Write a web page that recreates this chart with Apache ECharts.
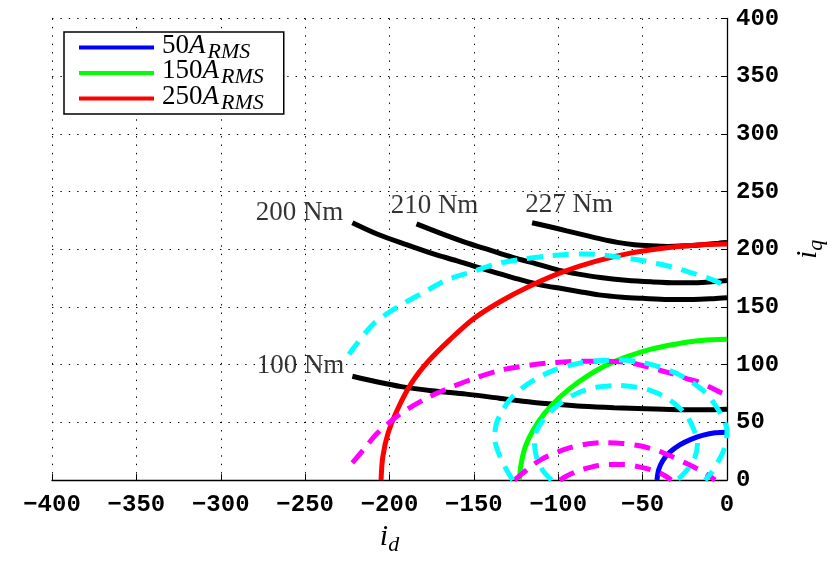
<!DOCTYPE html>
<html>
<head>
<meta charset="utf-8">
<script src="https://cdn.jsdelivr.net/npm/echarts@6/dist/echarts.min.js"></script>
<style>
  html, body { margin: 0; padding: 0; background: #fff; }
  #chart { width: 835px; height: 561px; }
</style>
</head>
<body>
<div id="chart"></div>
<script>
// Axis ranges and tick spacing (A)
const idRange = [-400, 0];
const iqRange = [0, 400];
const tickStep = 50;

// Current-limit circles, [i_d, i_q]
const currentLevels = ['50', '150', '250'];
const circle50 = [[-41.5,0],[-40.5,9],[-38,17],[-34,24],[-28,30.5],[-21,35.5],[-14,39],[-7,41],[0,41.5]];
const circle150 = [[-123,0],[-122,14],[-119.5,29],[-115,43],[-108,58],[-99,72],[-88,85],[-75,97],[-60,106.5],[-45,113.5],[-30,118],[-15,121],[0,122]];
const circle250 = [[-205,0],[-204,20],[-201,40],[-195,62],[-187,84],[-177,103],[-164,122],[-150,140],[-134,155],[-117,168],[-98,180],[-78,189.5],[-58,196.5],[-38,201],[-19,203.5],[0,204.5]];

// Constant-torque curves
const torqueNames = ['100 Nm', '200 Nm', '210 Nm', '227 Nm'];
const torque100 = [[-222,90],[-207,85],[-193,81],[-175,77.5],[-154.5,74.5],[-135,71],[-115.5,67.5],[-100,65.5],[-86,64],[-67,62.7],[-48,61.8],[-28,61],[-14,61],[0,61.5]];
const torque200 = [[-222,223],[-207,213],[-190,204],[-174,196],[-160,190],[-148,184.5],[-135,179],[-122,173.5],[-110,169],[-98,166],[-88,163.5],[-76,160.5],[-62,158.5],[-50,157.5],[-35,156.5],[-20,156.5],[-8,157.2],[0,158]];
const torque210 = [[-184,222],[-170,214],[-155,206],[-140,199],[-127,193],[-112,187],[-100,182],[-88,178.5],[-75,175.5],[-60,173.2],[-45,171.8],[-30,171],[-15,171.3],[0,173]];
const torque227 = [[-115.5,223],[-105,219.5],[-95,216],[-85,212.5],[-75,209],[-65,206],[-55,204],[-45,203],[-35,202.5],[-25,203],[-15,204],[-5,205.3],[0,206]];

// Voltage-limit ellipses (dashed)
const cyanOuter = [[-224,109],[-221,115],[-209,136],[-193,152],[-178,164],[-167,173],[-150,181],[-135,188],[-121,191.5],[-108,194],[-95,195.5],[-84.5,196],[-73,195],[-63,193],[-53,191],[-42.6,188],[-32,184.5],[-22,180],[-12,175.5],[-6,172],[0,168]];
const cyanMiddle = [[-127,0],[-131,10],[-135,22],[-137.5,35],[-137,47],[-134,58],[-129,69],[-122,79],[-113,88],[-102,95.5],[-90,100.5],[-77,103.5],[-64,104],[-52,102.5],[-40,98],[-30,92.5],[-21,85],[-13,76],[-7,65],[-2.5,54],[0,43],[-0.5,33],[-2.5,24],[-6,14],[-10,5],[-13,0]];
const cyanInner = [[-104,0],[-109,8],[-112.5,18],[-114,30],[-113,42],[-108,54],[-101,64],[-92,73],[-83,78.5],[-75,81],[-65,82],[-56,81],[-46,78],[-38,73],[-30,65],[-24,56],[-20,45],[-17.5,32],[-19,20],[-23,10],[-28,2],[-30,0]];
const magentaOuter = [[-222,15],[-215,27],[-207,41],[-193,58],[-178,71],[-166,79],[-150,88],[-135,95],[-124,98],[-105,101.6],[-86,103],[-75,103],[-63,102.5],[-52,100],[-42,96],[-32,92],[-24,88],[-18,85.5],[-10,80.5],[-3,75.5],[0,74]];
const magentaMiddle = [[-126,0],[-121,6],[-116,12],[-110,18],[-101,24],[-92,28.5],[-82,31.5],[-73,32.5],[-62,31.8],[-51,29.5],[-41,25.5],[-32,20],[-22,13],[-13,6],[-7,0]];
const magentaInner = [[-99,0],[-95,3.5],[-89,7.5],[-80,11.5],[-70,13.5],[-61,13.5],[-52,11.5],[-43,8],[-37,4],[-33,0]];

const serif = 'Liberation Serif';
const mono = 'Liberation Mono';

function solid(name, data, color) {
  return {
    name, type: 'line', data, showSymbol: false, smooth: 0.3,
    lineStyle: { color, width: 5 }, itemStyle: { color }, silent: true
  };
}
function dashed(data, color) {
  return {
    type: 'line', data, showSymbol: false, smooth: 0.3,
    lineStyle: { color, width: 5, type: [16, 10] }, itemStyle: { color }, silent: true
  };
}

const torqueCurves = [torque100, torque200, torque210, torque227];
// label placement relative to the first point of each torque curve
const labelPlacement = [
  { position: 'left', distance: 8, offset: [0, -10] },
  { position: 'left', distance: 9, offset: [0, -10] },
  { position: 'top', distance: 5, offset: [18, 0] },
  { position: 'top', distance: 4, offset: [37, 0] }
];

const labelPoints = torqueCurves.map((c, i) => ({
  value: c[0],
  name: torqueNames[i],
  label: labelPlacement[i]
}));

const series = [
  ...torqueCurves.map(d => solid(undefined, d, '#000')),
  solid(currentLevels[0], circle50, '#0000ff'),
  solid(currentLevels[1], circle150, '#00ff00'),
  solid(currentLevels[2], circle250, '#ff0000'),
  dashed(magentaOuter, '#ff00ff'),
  dashed(magentaMiddle, '#ff00ff'),
  dashed(magentaInner, '#ff00ff'),
  dashed(cyanOuter, '#00ffff'),
  dashed(cyanMiddle, '#00ffff'),
  dashed(cyanInner, '#00ffff'),
  {
    type: 'scatter', data: labelPoints, symbolSize: 0, silent: true, z: 10,
    label: {
      show: true, formatter: p => p.name,
      fontFamily: serif, fontSize: 27, color: '#000'
    }
  }
];

const gridDots = { color: '#000', width: 1, type: [1.4, 7] };
const tickFmt = v => String(v).replace('-', '\u2212');

// main glyphs sit at the top of a tall line, subscripts at its bottom
const mainStyle = (size, italic) => ({
  fontFamily: serif, fontStyle: italic ? 'italic' : 'normal', fontSize: size,
  verticalAlign: 'top', color: '#000'
});
const subStyle = (size, lh) => ({
  fontFamily: serif, fontStyle: 'italic', fontSize: size, lineHeight: lh,
  verticalAlign: 'bottom', color: '#000'
});

const option = {
  animation: false,
  backgroundColor: '#fff',
  grid: { left: 52, right: 97, top: 18.5, bottom: 70, containLabel: false },
  legend: {
    data: currentLevels,
    orient: 'vertical', left: 64, top: 32,
    icon: 'rect', itemWidth: 75, itemHeight: 4, itemGap: -5.5,
    padding: [0, 20, 0, 15],
    backgroundColor: '#fff', borderColor: '#000', borderWidth: 1.5, borderRadius: 0,
    selectedMode: false,
    formatter: n => '{n|' + n + '}{a|A}{s|RMS}',
    textStyle: {
      color: '#000',
      rich: {
        n: Object.assign(mainStyle(27, false), { padding: [0, 0, 0, 3] }),
        a: Object.assign(mainStyle(27, true), { padding: [0, 2, 0, 0] }),
        s: subStyle(22, 31)
      }
    }
  },
  xAxis: {
    type: 'value', min: idRange[0], max: idRange[1], interval: tickStep,
    position: 'bottom',
    axisLine: { show: true, onZero: false, lineStyle: { color: '#000', width: 1.3 } },
    axisTick: { show: true, inside: true, length: 6, lineStyle: { color: '#000', width: 1 } },
    axisLabel: { margin: 13, formatter: tickFmt, fontFamily: mono, fontWeight: 'bold', fontSize: 24, color: '#000' },
    splitLine: { show: true, lineStyle: gridDots },
    name: '{i|i}{d|d}', nameLocation: 'middle', nameGap: 36,
    nameTextStyle: {
      rich: { i: mainStyle(30, true), d: subStyle(22, 34) }
    }
  },
  yAxis: {
    type: 'value', min: iqRange[0], max: iqRange[1], interval: tickStep,
    position: 'right',
    axisLine: { show: true, onZero: false, lineStyle: { color: '#000', width: 1.3 } },
    axisTick: { show: true, inside: true, length: 6, lineStyle: { color: '#000', width: 1 } },
    axisLabel: { margin: 9, formatter: tickFmt, fontFamily: mono, fontWeight: 'bold', fontSize: 24, color: '#000' },
    splitLine: { show: true, lineStyle: gridDots },
    name: '{i|i}{q|q}', nameLocation: 'middle', nameGap: 66, nameRotate: 90,
    nameTextStyle: {
      rich: { i: mainStyle(30, true), q: subStyle(22, 34) }
    }
  },
  series
};

const chart = echarts.init(document.getElementById('chart'), null, { renderer: 'canvas' });
chart.setOption(option);
</script>
</body>
</html>
